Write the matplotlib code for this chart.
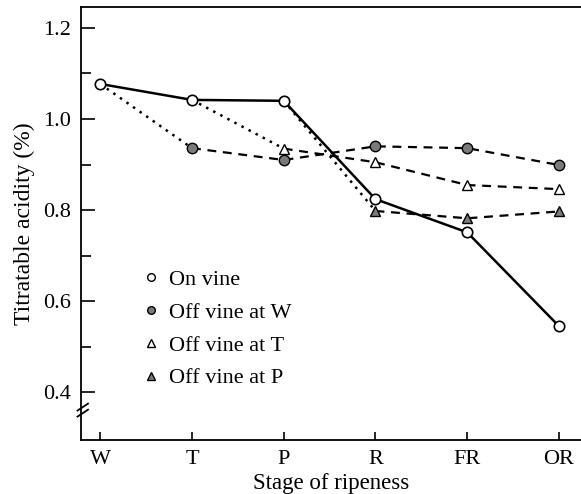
import matplotlib
matplotlib.use("Agg")
import matplotlib.pyplot as plt
from matplotlib.ticker import FixedLocator

plt.rcParams["font.family"] = ["Liberation Serif", "DejaVu Serif"]

stages = ["W", "T", "P", "R", "FR", "OR"]
on_vine = [1.077, 1.042, 1.040, 0.824, 0.751, 0.545]
off_w = [0.936, 0.910, 0.940, 0.936, 0.899]   # T..OR
off_t = [0.935, 0.905, 0.855, 0.846]          # P..OR
off_p = [0.798, 0.782, 0.797]                 # R..OR

fig = plt.figure(figsize=(5.81, 4.94), dpi=100)
ax = fig.add_axes([0.1394, 0.1093, 0.8606, 0.8765])

x = list(range(len(stages)))

# on vine
ax.plot(x, on_vine, color="black", linewidth=1.8, zorder=3)
ax.plot(x, on_vine, linestyle="none", marker="o", markersize=7.5,
        markerfacecolor="white", markeredgecolor="black", markeredgewidth=1.2, zorder=5)

# off vine series: dotted link from the harvest point, dashed afterwards
series = [(off_w, 1, "o", "#7a7a7a"), (off_t, 2, "^", "white"), (off_p, 3, "^", "#7a7a7a")]
for vals, start, mk, fc in series:
    xs = x[start:]
    ax.plot([start - 1, start], [on_vine[start - 1], vals[0]], color="black",
            linestyle=(0, (1, 2.2)), linewidth=1.8, zorder=2)
    ax.plot(xs, vals, color="black", linestyle=(0, (4, 3)), linewidth=1.6, zorder=2)
    ax.plot(xs, vals, linestyle="none", marker=mk, markersize=7.5,
            markerfacecolor=fc, markeredgecolor="black", markeredgewidth=1.0, zorder=4)

ax.set_xlim(-0.21, 5.24)
ax.set_ylim(0.295, 1.246)
ax.set_xticks(x)
ax.set_xticklabels(stages, fontsize=16)
ax.set_yticks([0.4, 0.6, 0.8, 1.0, 1.2])
ax.set_yticklabels(["0.4", "0.6", "0.8", "1.0", "1.2"], fontsize=16)
ax.yaxis.set_minor_locator(FixedLocator([0.5, 0.7, 0.9, 1.1]))
ax.tick_params(axis="y", which="major", direction="in", length=10, width=1.2, pad=7)
ax.tick_params(axis="y", which="minor", direction="in", length=7, width=1.2)
ax.tick_params(axis="x", direction="in", length=6, width=1.2, pad=7)
ax.spines["right"].set_visible(False)
for s in ["left", "bottom", "top"]:
    ax.spines[s].set_linewidth(1.3)

# axis break marks
for yb in (0.062, 0.076):
    ax.plot([-0.007, 0.014], [yb - 0.008, yb + 0.008], transform=ax.transAxes,
            color="black", linewidth=1.3, clip_on=False)

ax.set_xlabel("Stage of ripeness", fontsize=16.5, labelpad=3)
ax.set_ylabel("Titratable acidity (%)", fontsize=17, labelpad=6)

# legend without frame
labels = ["On vine", "Off vine at W", "Off vine at T", "Off vine at P"]
handles = [
    plt.Line2D([], [], linestyle="none", marker="o", markersize=5.5,
               markerfacecolor="white", markeredgecolor="black"),
    plt.Line2D([], [], linestyle="none", marker="o", markersize=5.5,
               markerfacecolor="#7a7a7a", markeredgecolor="black"),
    plt.Line2D([], [], linestyle="none", marker="^", markersize=5.5,
               markerfacecolor="white", markeredgecolor="black"),
    plt.Line2D([], [], linestyle="none", marker="^", markersize=5.5,
               markerfacecolor="#7a7a7a", markeredgecolor="black"),
]
ax.legend(handles, labels, loc="upper left", bbox_to_anchor=(0.082, 0.44),
          frameon=False, fontsize=16, handlelength=0.8, handletextpad=0.4,
          labelspacing=0.55)

fig.savefig("out.png", dpi=100)
